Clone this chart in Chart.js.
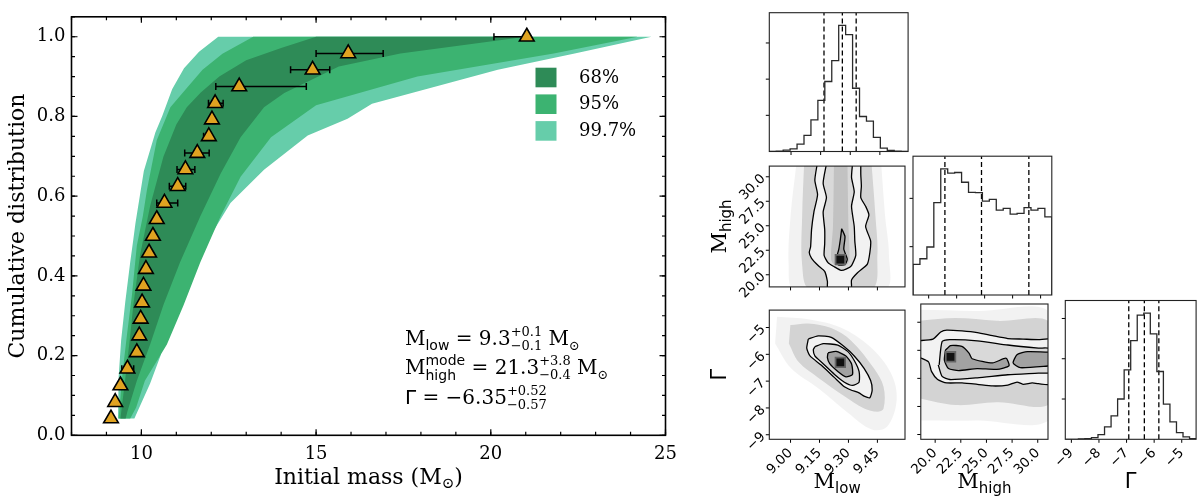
<!DOCTYPE html>
<html>
<head>
<meta charset="utf-8">
<script src="https://cdn.jsdelivr.net/npm/chart.js@4.4.1/dist/chart.umd.min.js"></script>
<style>
  body { margin: 0; background: #fff; width: 1200px; height: 502px; overflow: hidden; position: relative; }
  canvas { position: absolute; }
</style>
</head>
<body>
<canvas id="cdf" width="690" height="502" style="left:0;top:0"></canvas>
<script>
// ---------- left panel: cumulative distribution ----------
const obsMass = [9.13, 9.25, 9.40, 9.60, 9.87, 9.94, 9.98, 10.02, 10.06, 10.13, 10.22, 10.33,
                 10.44, 10.66, 11.04, 11.26, 11.60, 11.93, 12.02, 12.11, 12.80, 14.90, 15.92, 21.03];
const obsCum = [0.042, 0.083, 0.125, 0.167, 0.208, 0.25, 0.292, 0.333, 0.375, 0.417, 0.458, 0.5,
                0.542, 0.583, 0.625, 0.667, 0.708, 0.75, 0.792, 0.833, 0.875, 0.917, 0.958, 1.0];
const errLow  = [0, 0, 0, 0.16, 0, 0, 0, 0, 0, 0, 0, 0.05, 0.06, 0.22, 0.24, 0.24, 0.36, 0.15, 0, 0.19, 0.67, 0.63, 0.92, 0.94];
const errHigh = [0, 0, 0, 0.18, 0, 0, 0, 0, 0, 0, 0, 0.05, 0.06, 0.38, 0.23, 0.27, 0.34, 0.05, 0, 0.23, 1.92, 0.49, 1.00, 0];

// band outlines: left edge bottom->top, then right edge top->bottom
const band68 = [[9.40,0.042],[9.55,0.15],[9.68,0.25],[9.77,0.327],[9.96,0.451],[10.25,0.575],[10.63,0.699],
  [11.0,0.78],[11.3,0.823],[11.7,0.86],[12.23,0.9],[13.0,0.941],[14.0,0.972],[15.0,1.0],
  [21.0,1.0],[17.41,0.958],[15.65,0.925],[14.87,0.892],[14.09,0.859],[13.51,0.823],[12.84,0.748],
  [12.27,0.657],[11.69,0.55],[11.11,0.435],[10.63,0.327],[10.25,0.228],[9.87,0.137],[9.6,0.06],[9.55,0.042]];
const band95 = [[9.35,0.042],[9.46,0.156],[9.59,0.254],[9.73,0.352],[9.87,0.476],[10.04,0.549],[10.16,0.616],
  [10.44,0.74],[10.83,0.823],[11.27,0.868],[11.75,0.917],[12.32,0.957],[13.2,1.0],
  [24.2,1.0],[21.8,0.958],[17.9,0.9],[15.0,0.828],[13.71,0.748],[12.84,0.649],[12.27,0.55],[11.69,0.435],
  [11.21,0.327],[10.73,0.228],[10.1,0.137],[9.85,0.07],[9.68,0.042]];
const band997 = [[9.33,0.042],[9.35,0.148],[9.42,0.238],[9.54,0.336],[9.68,0.434],[9.77,0.492],[9.83,0.532],
  [10.07,0.663],[10.40,0.76],[10.60,0.802],[10.88,0.868],[11.22,0.921],[11.65,0.962],[12.2,1.0],
  [24.6,1.0],[22.4,0.958],[20.2,0.917],[16.6,0.832],[15.9,0.794],[14.76,0.752],[13.51,0.666],[12.55,0.583],
  [11.69,0.459],[11.21,0.377],[11.11,0.327],[10.78,0.286],[10.55,0.2],[10.25,0.13],[9.8,0.042]];
const bandLabels = ['68%', '95%', '99.7%'];
const bandColors = ['#2e8b57', '#3cb371', '#66cdaa'];
const cdfXTicks = [10, 15, 20, 25];
const cdfYTicks = [0, 0.2, 0.4, 0.6, 0.8, 1.0];

// ---------- corner plot ----------
const mlowRange = [8.89, 9.593], mhighRangeX = [18.6, 31.0], mhighRangeY = [18.76, 31.09];
const gammaRangeX = [-9.22, -4.48], gammaRangeY = [-9.17, -4.35];
const mlowTicks = [9.00, 9.15, 9.30, 9.45];
const mhighTicks = [20.0, 22.5, 25.0, 27.5, 30.0];
const gammaTicks = [-9, -8, -7, -6, -5];

const mlowCounts  = [0, 9, 37, 74, 205, 447, 874, 1414, 1935, 2512, 3488, 3228, 1749, 967, 837, 391, 93, 28, 9, 0];
const mhighCounts = [632, 750, 993, 1910, 2611, 2521, 2535, 2333, 2125, 2118, 1944, 1979, 1757, 1792, 1674, 1688, 1806, 1757, 1792, 1618];
const gammaCounts = [0, 0, 8, 17, 42, 117, 308, 583, 1000, 1725, 2450, 3083, 3133, 2617, 1683, 875, 433, 167, 58, 17];
const mlowCountTicks = [1000, 2000, 3000];
const mhighCountTicks = [1000, 2000];
const gammaCountTicks = [1000, 2000, 3000];
const mlowQuant = [9.167, 9.260, 9.330];
const mhighQuant = [21.45, 24.72, 28.95];
const gammaQuant = [-6.92, -6.355, -5.83];

// M_low vs M_high
const lhFaint  = [[9.03,31.3],[9.00,26],[8.99,21],[9.02,18.5],[9.49,18.5],[9.51,22],[9.49,26],[9.47,31.3]];
const lhCloud  = [[9.07,31.3],[9.06,26],[9.06,21],[9.10,18.5],[9.42,18.5],[9.45,22],[9.44,26],[9.42,31.3]];
const lhOuter  = [[9.138,31.3],[9.126,29.65],[9.140,28.17],[9.121,26.40],[9.109,24.63],[9.104,22.86],[9.097,22.27],
  [9.109,21.68],[9.143,20.94],[9.177,20.35],[9.191,19.32],[9.194,18.5],[9.313,18.5],[9.316,19.47],[9.347,20.21],
  [9.398,21.09],[9.411,22.27],[9.415,23.45],[9.389,24.93],[9.406,26.11],[9.389,26.99],[9.364,27.88],[9.367,29.06],
  [9.364,30.24],[9.364,31.3]];
const lhMiddle = [[9.186,31.3],[9.169,29.35],[9.186,27.88],[9.169,26.40],[9.177,24.63],[9.177,23.16],[9.174,21.98],
  [9.194,21.24],[9.228,20.80],[9.262,20.44],[9.290,20.60],[9.316,20.94],[9.338,21.98],[9.333,23.45],[9.330,24.93],
  [9.316,26.99],[9.330,28.47],[9.316,29.94],[9.321,31.3]];
const lhCore   = [[9.225,31.3],[9.22,25],[9.21,21.6],[9.23,21.0],[9.29,21.0],[9.305,21.6],[9.30,25],[9.295,31.3]];
const lhInner  = [[9.265,24.7],[9.282,23.9],[9.276,22.6],[9.294,21.6],[9.282,21.05],[9.248,21.0],[9.236,21.5],
  [9.250,22.6],[9.258,23.6],[9.265,24.7]];
const lhMode   = [[9.258,21.55]];

// M_low vs Gamma
const lgFaint  = [[8.93,-4.6],[9.10,-4.7],[9.26,-5.0],[9.41,-5.7],[9.52,-6.7],[9.55,-7.7],[9.50,-8.7],[9.42,-8.8],
  [9.30,-8.2],[9.15,-7.3],[9.00,-6.5],[8.92,-5.6]];
const lgCloud  = [[8.999,-4.91],[9.092,-4.85],[9.211,-5.02],[9.313,-5.48],[9.432,-6.52],[9.482,-7.21],[9.482,-8.02],
  [9.449,-8.14],[9.381,-8.02],[9.279,-7.56],[9.143,-6.87],[9.042,-6.29],[8.991,-5.60]];
const lgOuter  = [[9.092,-5.43],[9.143,-5.31],[9.211,-5.37],[9.279,-5.72],[9.330,-6.06],[9.381,-6.52],[9.415,-6.98],
  [9.423,-7.33],[9.411,-7.62],[9.381,-7.56],[9.355,-7.44],[9.313,-7.33],[9.279,-7.21],[9.228,-6.87],[9.160,-6.41],
  [9.101,-6.06],[9.084,-5.77],[9.092,-5.43]];
const lgMiddle = [[9.126,-5.72],[9.169,-5.60],[9.245,-5.66],[9.296,-5.89],[9.330,-6.23],[9.355,-6.64],[9.355,-7.04],
  [9.321,-7.16],[9.279,-7.04],[9.228,-6.75],[9.169,-6.35],[9.126,-6.06],[9.118,-5.83],[9.126,-5.72]];
const lgInner  = [[9.194,-5.95],[9.236,-5.89],[9.287,-6.06],[9.316,-6.35],[9.321,-6.75],[9.287,-6.84],[9.245,-6.64],
  [9.203,-6.35],[9.191,-6.12],[9.194,-5.95]];
const lgMode   = [[9.258,-6.30]];

// M_high vs Gamma
const hgFaint  = [[18.3,-4.55],[24,-4.6],[31.3,-4.7],[31.3,-8.4],[24,-8.5],[18.3,-8.5]];
const hgCloud  = [[18.3,-4.95],[22,-4.85],[26,-4.95],[31.3,-5.05],[31.3,-7.85],[26,-7.85],[22,-7.95],[18.3,-7.7]];
const hgOuter  = [[18.3,-5.66],[19.79,-5.60],[20.54,-5.35],[21.13,-5.28],[22.62,-5.31],[24.11,-5.37],[25.60,-5.48],
  [27.08,-5.58],[28.57,-5.60],[30.06,-5.62],[31.3,-5.62],[31.3,-7.19],[30.06,-7.19],[29.46,-7.16],[28.57,-7.21],
  [27.98,-7.13],[27.08,-7.24],[25.60,-7.27],[24.11,-7.21],[22.62,-7.16],[21.13,-7.16],[20.24,-7.04],[19.64,-6.75],
  [19.35,-6.41],[18.3,-6.23]];
const hgMiddle = [[20.39,-6.52],[20.68,-5.69],[21.43,-5.62],[24.11,-5.66],[27.08,-5.81],[30.06,-5.92],[31.3,-5.95],
  [31.3,-6.78],[30.06,-6.81],[27.08,-6.87],[24.11,-6.98],[21.43,-7.04],[20.68,-6.93],[20.30,-6.52]];
const hgInnerA = [[21.0,-6.0],[21.5,-5.83],[22.6,-5.86],[23.3,-6.1],[23.6,-6.3],[25.6,-6.45],[26.9,-6.28],[27.2,-6.55],
  [26.0,-6.68],[24.1,-6.65],[22.3,-6.72],[21.3,-6.65],[20.9,-6.35],[21.0,-6.0]];
const hgInnerB = [[31.3,-6.07],[29.0,-6.05],[28.0,-6.15],[27.6,-6.45],[28.3,-6.62],[31.3,-6.55]];
const hgMode   = [[21.5,-6.23]];

const serif = '"DejaVu Serif", serif';
const sans = '"DejaVu Sans", sans-serif';
const minus = s => String(s).replace('-', '\u2212');

// ---------- helpers ----------
function runWidth(ctx, r) {
  ctx.font = r.font;
  if (r.sup !== undefined) return Math.max(ctx.measureText(r.sup).width, ctx.measureText(r.sub).width);
  return ctx.measureText(r.text).width;
}
function drawRuns(ctx, runs, x, y, centered) {
  let cx = x;
  if (centered) cx -= runs.reduce((s, r) => s + runWidth(ctx, r), 0) / 2;
  ctx.textAlign = 'left';
  ctx.textBaseline = 'alphabetic';
  runs.forEach(r => {
    const w = runWidth(ctx, r);
    if (r.sup !== undefined) {
      ctx.fillText(r.sup, cx, y + r.supDy);
      ctx.fillText(r.sub, cx, y + r.subDy);
    } else {
      ctx.fillText(r.text, cx, y + (r.dy || 0));
    }
    cx += w;
  });
}
function seq(a, b, step) {
  const out = [];
  for (let v = a; v <= b + 1e-9; v += step) out.push(+v.toFixed(6));
  return out;
}
function pts(arr) { return arr.map(p => ({x: p[0], y: p[1]})); }

function poly(arr, color, stroke, tension) {
  return {
    data: pts(arr), fill: 'shape', backgroundColor: color,
    borderColor: stroke ? '#000' : 'rgba(0,0,0,0)', borderWidth: stroke ? 1.3 : 0,
    pointRadius: 0, tension: tension !== undefined ? tension : (stroke ? 0.2 : 0),
    clip: 0, borderJoinStyle: 'round'
  };
}

// frame + ticks drawn the matplotlib way
const frameTicks = {
  id: 'frameTicks',
  afterDraw(chart, args, o) {
    const {ctx, chartArea: a} = chart;
    const xs = chart.scales.x, ys = chart.scales.y;
    const d = o.inward ? 1 : -1;
    ctx.save();
    ctx.strokeStyle = '#000';
    ctx.lineWidth = o.tickWidth;
    const tick = (v, len, horiz) => {
      ctx.beginPath();
      if (horiz) {
        const p = xs.getPixelForValue(v);
        ctx.moveTo(p, a.bottom); ctx.lineTo(p, a.bottom - d * len);
        if (o.mirror) { ctx.moveTo(p, a.top); ctx.lineTo(p, a.top + d * len); }
      } else {
        const p = ys.getPixelForValue(v);
        ctx.moveTo(a.left, p); ctx.lineTo(a.left + d * len, p);
        if (o.mirror) { ctx.moveTo(a.right, p); ctx.lineTo(a.right - d * len, p); }
      }
      ctx.stroke();
    };
    (o.xMinor || []).forEach(v => tick(v, o.minor, true));
    (o.yMinor || []).forEach(v => tick(v, o.minor, false));
    xs.ticks.forEach(t => tick(t.value, o.major, true));
    ys.ticks.forEach(t => tick(t.value, o.major, false));
    ctx.lineWidth = o.frameWidth;
    ctx.strokeStyle = o.frameColor || '#000';
    ctx.strokeRect(a.left, a.top, a.right - a.left, a.bottom - a.top);
    ctx.restore();
  }
};

const errorBars = {
  id: 'errorBars',
  beforeDatasetDraw(chart, args) {
    if (args.index !== 0) return;
    const {ctx, scales: {x, y}} = chart;
    ctx.save();
    ctx.strokeStyle = '#000';
    ctx.lineWidth = 1.5;
    obsMass.forEach((m, i) => {
      if (!errLow[i] && !errHigh[i]) return;
      const py = y.getPixelForValue(obsCum[i]);
      const x0 = x.getPixelForValue(m - errLow[i]);
      const x1 = x.getPixelForValue(m + errHigh[i]);
      ctx.beginPath();
      ctx.moveTo(x0, py); ctx.lineTo(x1, py);
      ctx.moveTo(x0, py - 3.5); ctx.lineTo(x0, py + 3.5);
      ctx.moveTo(x1, py - 3.5); ctx.lineTo(x1, py + 3.5);
      ctx.stroke();
    });
    ctx.restore();
  }
};

const S20 = '20px ' + serif, SS20 = '20px ' + sans, S13 = '13px ' + serif, SS14 = '14px ' + sans;
const cdfDecor = {
  id: 'cdfDecor',
  afterDraw(chart) {
    const {ctx, chartArea: a} = chart;
    ctx.save();
    ctx.fillStyle = '#000';
    drawRuns(ctx, [
      {text: 'Initial mass (M', font: '22px ' + serif},
      {text: '\u2299', font: '15px ' + serif, dy: 4},
      {text: ')', font: '22px ' + serif}
    ], (a.left + a.right) / 2, 484, true);

    bandLabels.forEach((lab, i) => {
      ctx.fillStyle = bandColors[i];
      ctx.fillRect(535.5, 67.7 + i * 26.7, 21, 19.6);
      ctx.fillStyle = '#000';
      ctx.font = '18px ' + serif;
      ctx.textAlign = 'left';
      ctx.textBaseline = 'middle';
      ctx.fillText(lab, 579, 78 + i * 26.7);
    });

    ctx.fillStyle = '#000';
    drawRuns(ctx, [
      {text: 'M', font: S20}, {text: 'low', font: SS14, dy: 5}, {text: ' = 9.3', font: S20},
      {sup: '+0.1', sub: '\u22120.1', font: S13, supDy: -9, subDy: 5},
      {text: ' M', font: S20}, {text: '\u2299', font: S13, dy: 5}
    ], 405, 345);
    drawRuns(ctx, [
      {text: 'M', font: S20}, {sup: 'mode', sub: 'high', font: SS14, supDy: -9, subDy: 6},
      {text: ' = 21.3', font: S20}, {sup: '+3.8', sub: '\u22120.4', font: S13, supDy: -9, subDy: 5},
      {text: ' M', font: S20}, {text: '\u2299', font: S13, dy: 5}
    ], 405, 374);
    drawRuns(ctx, [
      {text: '\u0393', font: SS20}, {text: ' = \u22126.35', font: S20},
      {sup: '+0.52', sub: '\u22120.57', font: S13, supDy: -9, subDy: 5}
    ], 405, 404);
    ctx.restore();
  }
};

new Chart(document.getElementById('cdf'), {
  type: 'line',
  data: {
    datasets: [
      {
        data: obsMass.map((m, i) => ({x: m, y: obsCum[i]})), showLine: false,
        pointStyle: 'triangle', pointRadius: 8.5, pointBackgroundColor: '#e0a321',
        pointBorderColor: '#000', pointBorderWidth: 1.6
      },
      poly(band68, bandColors[0]),
      poly(band95, bandColors[1]),
      poly(band997, bandColors[2])
    ]
  },
  options: {
    responsive: false, animation: false, events: [],
    layout: {padding: {top: 7.5, right: 690 - 665.5, left: 0, bottom: 0}},
    plugins: {
      legend: {display: false}, tooltip: {enabled: false},
      frameTicks: {inward: true, mirror: true, major: 6, minor: 3.5, tickWidth: 1.2, frameWidth: 1.6,
                   xMinor: seq(8, 25, 1), yMinor: seq(0, 1.05, 0.05)}
    },
    scales: {
      x: {
        type: 'linear', min: 8, max: 25, bounds: 'data',
        afterFit: s => { s.height = 502 - 435.3; },
        afterBuildTicks: s => { s.ticks = cdfXTicks.map(v => ({value: v})); },
        grid: {display: false, drawTicks: false}, border: {display: false},
        ticks: {autoSkip: false, maxRotation: 0, padding: 8, color: '#000',
                font: {family: serif, size: 18}, callback: v => String(v)}
      },
      y: {
        type: 'linear', min: 0, max: 1.05, bounds: 'data',
        afterFit: s => { s.width = 71.5; },
        afterBuildTicks: s => { s.ticks = cdfYTicks.map(v => ({value: v})); },
        grid: {display: false, drawTicks: false}, border: {display: false},
        ticks: {autoSkip: false, padding: 6, color: '#000',
                font: {family: serif, size: 18}, callback: v => v.toFixed(1)},
        title: {display: true, text: 'Cumulative distribution', color: '#000',
                font: {family: serif, size: 22}, padding: {top: 5, bottom: 0}}
      }
    }
  },
  plugins: [frameTicks, errorBars, cdfDecor]
});

// ---------- corner panels ----------
const colLeft = [769.3, 913.0, 1057.3];
const rowTop = [12.7, 156.2, 300.5];
const panelSize = 138.8;

const titleM = sub => [{text: 'M', font: '21px ' + serif}, {text: sub, font: '15px ' + sans, dy: 5}];
const titleGamma = [{text: '\u0393', font: '21px ' + sans}];

const cornerTitles = {
  id: 'cornerTitles',
  afterDraw(chart, args, o) {
    const {ctx, chartArea: a} = chart;
    ctx.save();
    ctx.fillStyle = '#000';
    if (o.x) drawRuns(ctx, o.x, (a.left + a.right) / 2, a.bottom + 49, true);
    if (o.y) {
      ctx.translate(a.left - 43, (a.top + a.bottom) / 2);
      ctx.rotate(-Math.PI / 2);
      drawRuns(ctx, o.y, 0, 0, true);
    }
    ctx.restore();
  }
};

function histSets(start, width, counts, quant) {
  const top = Math.max(...counts) * 1.1;
  const line = [{x: start, y: 0}];
  counts.forEach((c, i) => line.push({x: start + i * width, y: c}));
  line.push({x: start + counts.length * width, y: 0});
  const sets = [{data: line, stepped: true, borderColor: '#2a2a2a', borderWidth: 1.3, pointRadius: 0, fill: false, clip: 0}];
  quant.forEach(q => sets.push({
    data: [{x: q, y: 0}, {x: q, y: top}], borderColor: '#000', borderWidth: 1.3,
    borderDash: [5, 3], pointRadius: 0, fill: false
  }));
  return {sets, top};
}

function densitySets(layers) {
  // layers listed bottom -> top
  const [faint, cloud, outer, middle, core, inners, mode] = layers;
  const sets = [
    poly(faint, 'rgba(0,0,0,0.05)', false, 0.35),
    poly(cloud, 'rgba(0,0,0,0.13)', false, 0.35),
    poly(outer, '#f2f2f2', true),
    poly(middle, '#d9d9d9', true)
  ];
  if (core) sets.push(poly(core, '#c2c2c2', false, 0.3));
  inners.forEach(p => sets.push(poly(p, '#a2a2a2', true)));
  sets.push({data: pts(mode), showLine: false, pointStyle: 'rect', pointRadius: 8, pointBackgroundColor: '#666', pointBorderWidth: 0});
  sets.push({data: pts(mode), showLine: false, pointStyle: 'rect', pointRadius: 5.5, pointBackgroundColor: '#111', pointBorderWidth: 0});
  return sets.reverse();
}

function addPanel(col, row, spec) {
  const px = colLeft[col], py = rowTop[row];
  const ml = spec.yLabels ? 72 : 6, mb = spec.xLabels ? 64 : 6;
  const L = Math.floor(px - ml), T = Math.floor(py - 4);
  const W = Math.ceil(px + panelSize + 4) - L, H = Math.ceil(py + panelSize + mb) - T;
  const cv = document.createElement('canvas');
  cv.width = W; cv.height = H;
  cv.style.left = L + 'px'; cv.style.top = T + 'px';
  document.body.appendChild(cv);
  const padTop = py - T, axisW = px - L;
  const padRight = W - axisW - panelSize, axisH = H - padTop - panelSize;
  const tickFont = {family: sans, size: 13.5};
  new Chart(cv, {
    type: 'line',
    data: {datasets: spec.datasets},
    options: {
      responsive: false, animation: false, events: [],
      layout: {padding: {top: padTop, right: padRight, left: 0, bottom: 0}},
      plugins: {
        legend: {display: false}, tooltip: {enabled: false},
        frameTicks: {inward: false, mirror: false, major: 3.5, tickWidth: 1, frameWidth: 1.1, frameColor: '#222'},
        cornerTitles: {x: spec.xTitle, y: spec.yTitle}
      },
      scales: {
        x: {
          type: 'linear', min: spec.xRange[0], max: spec.xRange[1], bounds: 'data',
          afterFit: s => { s.height = axisH; },
          afterBuildTicks: s => { s.ticks = spec.xTicks.map(v => ({value: v})); },
          grid: {display: false, drawTicks: false}, border: {display: false},
          ticks: {display: !!spec.xLabels, autoSkip: false, minRotation: 45, maxRotation: 45, padding: 6,
                  color: '#000', font: tickFont, callback: spec.xFmt}
        },
        y: {
          type: 'linear', min: spec.yRange[0], max: spec.yRange[1], bounds: 'data',
          afterFit: s => { s.width = axisW; },
          afterBuildTicks: s => { s.ticks = spec.yTicks.map(v => ({value: v})); },
          grid: {display: false, drawTicks: false}, border: {display: false},
          ticks: {display: !!spec.yLabels, autoSkip: false, minRotation: 45, maxRotation: 45, padding: 6,
                  color: '#000', font: tickFont, callback: spec.yFmt}
        }
      }
    },
    plugins: [frameTicks, cornerTitles]
  });
}

const fmtLow = v => v.toFixed(2);
const fmtHigh = v => v.toFixed(1);
const fmtGamma = v => minus(v.toFixed(0));

const hLow = histSets(mlowRange[0], (mlowRange[1] - mlowRange[0]) / mlowCounts.length, mlowCounts, mlowQuant);
addPanel(0, 0, {datasets: hLow.sets, xRange: mlowRange, yRange: [0, hLow.top],
  xTicks: mlowTicks, yTicks: mlowCountTicks});

const hHigh = histSets(mhighRangeX[0], (mhighRangeX[1] - mhighRangeX[0]) / mhighCounts.length, mhighCounts, mhighQuant);
addPanel(1, 1, {datasets: hHigh.sets, xRange: mhighRangeX, yRange: [0, hHigh.top],
  xTicks: mhighTicks, yTicks: mhighCountTicks});

const hGam = histSets(gammaRangeX[0], (gammaRangeX[1] - gammaRangeX[0]) / gammaCounts.length, gammaCounts, gammaQuant);
addPanel(2, 2, {datasets: hGam.sets, xRange: gammaRangeX, yRange: [0, hGam.top],
  xTicks: gammaTicks, yTicks: gammaCountTicks, xLabels: true, xFmt: fmtGamma, xTitle: titleGamma});

addPanel(0, 1, {datasets: densitySets([lhFaint, lhCloud, lhOuter, lhMiddle, lhCore, [lhInner], lhMode]),
  xRange: mlowRange, yRange: mhighRangeY, xTicks: mlowTicks, yTicks: mhighTicks,
  yLabels: true, yFmt: fmtHigh, yTitle: titleM('high')});

addPanel(0, 2, {datasets: densitySets([lgFaint, lgCloud, lgOuter, lgMiddle, null, [lgInner], lgMode]),
  xRange: mlowRange, yRange: gammaRangeY, xTicks: mlowTicks, yTicks: gammaTicks,
  xLabels: true, yLabels: true, xFmt: fmtLow, yFmt: fmtGamma, xTitle: titleM('low'), yTitle: titleGamma});

addPanel(1, 2, {datasets: densitySets([hgFaint, hgCloud, hgOuter, hgMiddle, null, [hgInnerA, hgInnerB], hgMode]),
  xRange: mhighRangeX, yRange: gammaRangeY, xTicks: mhighTicks, yTicks: gammaTicks,
  xLabels: true, xFmt: fmtHigh, xTitle: titleM('high')});
</script>
</body>
</html>
